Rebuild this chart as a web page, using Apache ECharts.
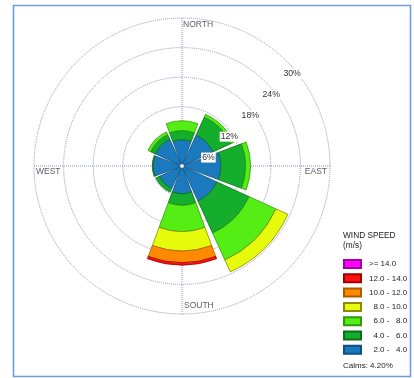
<!DOCTYPE html>
<html><head><meta charset="utf-8">
<script src="https://cdn.jsdelivr.net/npm/echarts@6/dist/echarts.min.js"></script>
<style>html,body{margin:0;padding:0;background:#fff}#c{width:414px;height:378px}</style>
</head><body><div id="c"></div>
<script>
// ---- data ----
const directions = ['N', 'NE', 'E', 'SE', 'S', 'SW', 'W', 'NW'];
const speedClasses = ['2.0 - 4.0', '4.0 - 6.0', '6.0 - 8.0', '8.0 - 10.0', '10.0 - 12.0', '12.0 - 14.0', '>= 14.0'];
const speedLegendText = ['  2.0 -   4.0', '  4.0 -   6.0', '  6.0 -   8.0', '  8.0 - 10.0', '10.0 - 12.0', '12.0 - 14.0', '>= 14.0'];
// percent frequency per direction (segment of the stack)
const freq2to4   = [4.9, 6.5, 7.5, 7.4, 5.2, 4.6, 5.4, 5.5];
const freq4to6   = [1.9, 4.1, 5.1, 7.3, 2.4, 0.8, 0.2, 1.1];
const freq6to8   = [2.0, 0.6, 1.0, 6.1, 5.4, 0.0, 0.0, 0.6];
const freq8to10  = [0.0, 0.0, 0.0, 2.7, 4.0, 0.0, 0.0, 0.0];
const freq10to12 = [0.0, 0.0, 0.0, 0.0, 2.4, 0.0, 0.0, 0.0];
const freq12to14 = [0.0, 0.0, 0.0, 0.0, 0.5, 0.0, 0.0, 0.0];
const freq14up   = [0.0, 0.0, 0.0, 0.0, 0.0, 0.0, 0.0, 0.0];
const ringTicks = [6, 12, 18, 24, 30];
const compassLabels = ['NORTH', 'EAST', 'SOUTH', 'WEST'];
const compassAngles = [0, 90, 180, 270];
const legendTitle = 'WIND SPEED\n(m/s)';
const calmsText = 'Calms: 4.20%';

// ---- styles ----
const FONT = "'Liberation Sans', Arial, sans-serif";
const fills   = ['#1b7abd', '#14ae2c', '#55ee14', '#e6fa0c', '#ff8a00', '#ff1010', '#ff00ff'];
const borders = ['#0e4f82', '#0b6c1a', '#2f9a0a', '#8c8a00', '#b05a00', '#a00000', '#a000a0'];
const seriesData = [freq2to4, freq4to6, freq6to8, freq8to10, freq10to12, freq12to14, freq14up];
const CENTER = [182, 166], R = 148;
// ring-label ray sits parallel to the 45° direction, nudged off the grid centre
const LABEL_CENTER = [187.5, 178.5];
const gridLine = { color: '#8f90c2', type: 'dotted', width: 1 };
const hidden = { axisLine: { show: false }, axisTick: { show: false }, axisLabel: { show: false }, splitLine: { show: false } };

const barSeries = speedClasses.map((name, i) => ({
  name: name,
  type: 'bar',
  coordinateSystem: 'polar',
  polarIndex: 0,
  stack: 'wind',
  barCategoryGap: '9%',
  data: seriesData[i].map(v => (v > 0 ? v : '-')),
  itemStyle: { color: fills[i], borderColor: borders[i], borderWidth: 0.8 },
  z: 3
}));

const labelPos = {
  NORTH: { position: 'right', distance: 1, offset: [0, 7] },
  EAST:  { position: 'left', distance: 3, offset: [0, 6] },
  SOUTH: { position: 'right', distance: 2, offset: [0, -8] },
  WEST:  { position: 'right', distance: 2, offset: [0, 6] }
};

const option = {
  animation: false,
  textStyle: { fontFamily: FONT },
  title: [
    { text: legendTitle, left: 343, top: 230, padding: 0,
      textStyle: { fontSize: 8.3, fontWeight: 'normal', color: '#222', lineHeight: 10.5, fontFamily: FONT } },
    { text: calmsText, left: 343, top: 361, padding: 0,
      textStyle: { fontSize: 8, fontWeight: 'normal', color: '#222', lineHeight: 10.5, fontFamily: FONT } }
  ],
  legend: {
    orient: 'vertical', left: 343, top: 259, padding: 0,
    itemWidth: 17, itemHeight: 8, itemGap: 4.3,
    icon: 'rect', selectedMode: false,
    data: speedClasses.slice().reverse(),
    formatter: name => speedLegendText[speedClasses.indexOf(name)],
    textStyle: { fontSize: 8, color: '#222', lineHeight: 8, padding: [0, 0, 0, 3], fontFamily: FONT }
  },
  polar: [
    { center: CENTER, radius: [2.5, R] },
    { center: CENTER, radius: R },
    { center: LABEL_CENTER, radius: R }
  ],
  angleAxis: [
    Object.assign({ polarIndex: 0, type: 'category', data: directions, startAngle: 112.5, boundaryGap: true }, hidden),
    Object.assign({}, hidden, { polarIndex: 1, type: 'value', min: 0, max: 360, interval: 90, startAngle: 90,
      splitLine: { show: true, lineStyle: gridLine } }),
    Object.assign({ polarIndex: 2, type: 'value', min: 0, max: 360, startAngle: 45 }, hidden)
  ],
  radiusAxis: [
    Object.assign({ polarIndex: 0, type: 'value', min: 0, max: 30 }, hidden),
    Object.assign({}, hidden, { polarIndex: 1, type: 'value', min: 0, max: 30, interval: 6,
      splitLine: { show: true, lineStyle: gridLine } }),
    Object.assign({}, hidden, { polarIndex: 2, type: 'value', min: 0, max: 30, interval: 6, z: 10,
      axisLabel: { show: true, showMinLabel: false, margin: 0,
        formatter: v => ringTicks.indexOf(v) >= 0 ? v + '%' : '',
        fontSize: 8.7, color: '#333', backgroundColor: '#fff', padding: [1, 1, 0, 1],
        align: 'center', verticalAlign: 'middle', fontFamily: FONT } })
  ],
  series: barSeries.concat([{
    type: 'scatter', coordinateSystem: 'polar', polarIndex: 1,
    symbolSize: 0, z: 10, silent: true,
    data: compassLabels.map((n, i) => ({
      name: n, value: [30, compassAngles[i]],
      label: Object.assign({ show: true, formatter: '{b}', fontSize: 8.5, color: '#333', fontFamily: FONT }, labelPos[n])
    }))
  }]),
  graphic: [{
    type: 'rect', silent: true, z: 100,
    shape: { x: 13.5, y: 5.5, width: 397, height: 371 },
    style: { fill: 'none', stroke: '#6f9edb', lineWidth: 1.6 }
  }]
};
const chart = echarts.init(document.getElementById('c'), null, { renderer: 'canvas' });
chart.setOption(option);
</script></body></html>
